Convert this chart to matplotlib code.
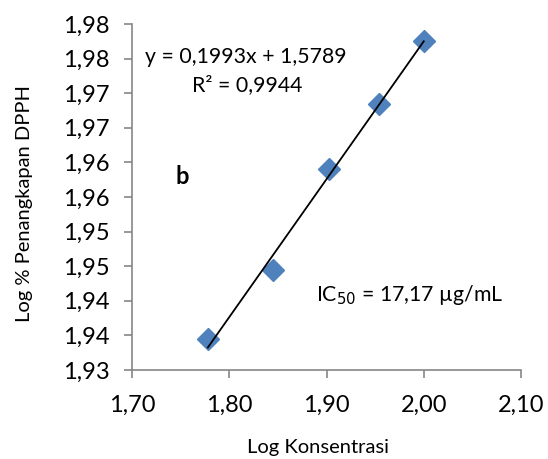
import numpy as np
import matplotlib
matplotlib.use("Agg")
import matplotlib.pyplot as plt

# data
log_conc = [1.778, 1.845, 1.903, 1.954, 2.000]
log_inhib = [1.9345, 1.9445, 1.9590, 1.9684, 1.9775]
slope = 0.1993
intercept = 1.5789

x_ticks = [1.70, 1.80, 1.90, 2.00, 2.10]
x_tick_labels = ["1,70", "1,80", "1,90", "2,00", "2,10"]
y_ticks = [1.930, 1.935, 1.940, 1.945, 1.950, 1.955, 1.960, 1.965, 1.970, 1.975, 1.980]
y_tick_labels = ["1,93", "1,94", "1,94", "1,95", "1,95", "1,96", "1,96", "1,97", "1,97", "1,98", "1,98"]

plt.rcParams['font.family'] = ['Lato', 'DejaVu Sans']

fig = plt.figure(figsize=(5.48, 4.59), dpi=100)
ax = fig.add_axes([132/548, 1 - 370/459, (521 - 132)/548, (370 - 24)/459])

ax.plot(log_conc, log_inhib, 'D', color='#4F81BD', markersize=11, zorder=2)

x_fit = np.array([min(log_conc), max(log_conc)])
ax.plot(x_fit, slope*x_fit + intercept, 'k-', linewidth=1.3, zorder=3)

ax.set_xlim(1.70, 2.10)
ax.set_ylim(1.930, 1.980)
ax.set_xticks(x_ticks)
ax.set_xticklabels(x_tick_labels)
ax.set_yticks(y_ticks)
ax.set_yticklabels(y_tick_labels)

for side in ['top', 'right']:
    ax.spines[side].set_visible(False)
for side in ['left', 'bottom']:
    ax.spines[side].set_color('#868686')
    ax.spines[side].set_linewidth(1.2)
ax.tick_params(axis='both', colors='#868686', length=6, width=1.2, labelsize=17, labelcolor='black')
ax.tick_params(axis='x', pad=12)
ax.tick_params(axis='y', pad=10)

# pixel positions measured from the top-left of the picture
fig.text(318/548, 1 - 448/459, "Log Konsentrasi", fontsize=14.5, ha='center', va='center')
fig.text(25/548, 1 - 203/459, "Log % Penangkapan DPPH", fontsize=14.5, rotation=90,
         ha='center', va='center')

notes = [
    (145, 57, "y = 0,1993x + 1,5789", 'normal', 15.3),
    (192, 85, "R² = 0,9944", 'normal', 15.3),
    (175, 177, "b", 'bold', 17),
    (316, 295, r"IC$_{50}$ = 17,17 µg/mL", 'normal', 15.3),
]
for px, py, s, w, fs in notes:
    fig.text(px/548, 1 - py/459, s, fontsize=fs, fontweight=w, va='center')

fig.savefig("out.png", dpi=100)
